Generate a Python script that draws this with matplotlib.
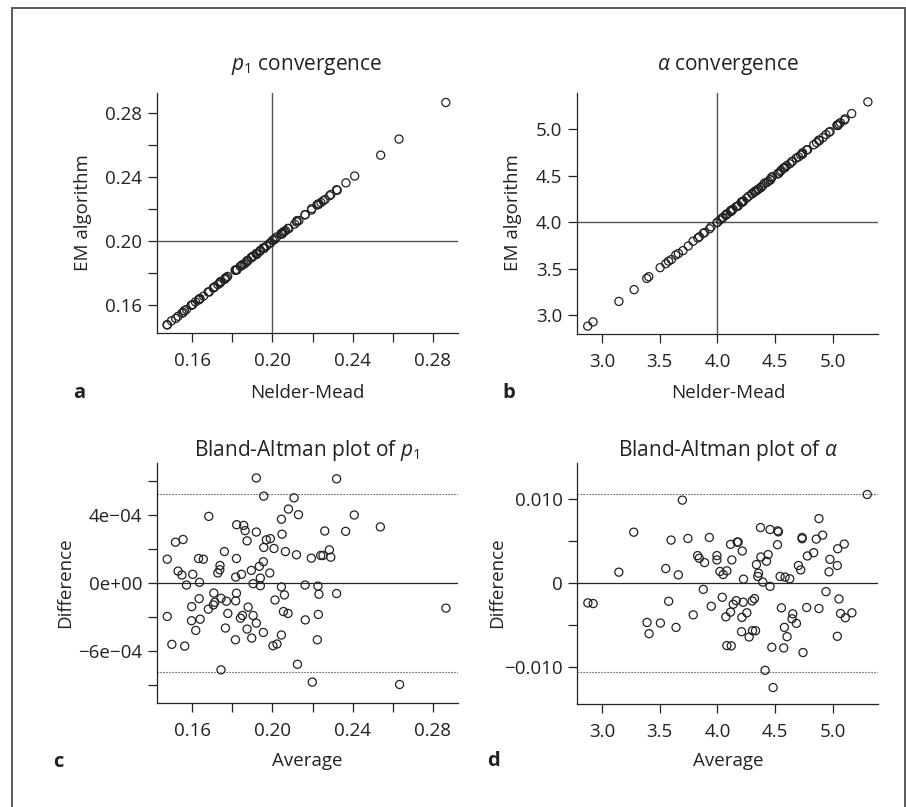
import numpy as np
import matplotlib
matplotlib.use("Agg")
import matplotlib.pyplot as plt
from matplotlib.patches import Rectangle

plt.rcParams['font.family'] = ['Open Sans', 'DejaVu Sans']
plt.rcParams['mathtext.fontset'] = 'custom'
plt.rcParams['mathtext.rm'] = 'Open Sans'
plt.rcParams['mathtext.it'] = 'Open Sans:italic'
plt.rcParams['mathtext.bf'] = 'Open Sans:bold'
plt.rcParams['axes.unicode_minus'] = True

# ---- p1: Bland-Altman average and difference (difference in 1e-4 units)
p1_avg = [0.1920, 0.2320, 0.1957, 0.2108, 0.2080, 0.2130, 0.2408, 0.1683, 0.2045, 0.1822,
          0.1857, 0.1864, 0.1920, 0.2261, 0.2365, 0.2538, 0.2048, 0.1990, 0.1970, 0.1874,
          0.1517, 0.1555, 0.1957, 0.2008, 0.1761, 0.2065, 0.2284, 0.2120, 0.2241, 0.2252,
          0.2291, 0.2194, 0.1476, 0.1632, 0.1656, 0.1821, 0.1955, 0.1935, 0.1739, 0.1738,
          0.1728, 0.1530, 0.1549, 0.1603, 0.1895, 0.1987, 0.1846, 0.1817, 0.1940, 0.1637,
          0.1572, 0.1904, 0.1940, 0.2045, 0.2163, 0.2227, 0.1708, 0.1821, 0.2060, 0.2320,
          0.2232, 0.1635, 0.1744, 0.1771, 0.1817, 0.1713, 0.1706, 0.2013, 0.1598, 0.1681,
          0.1879, 0.2055, 0.2078, 0.1778, 0.1851, 0.1841, 0.1904, 0.1476, 0.1640, 0.1597,
          0.1920, 0.2164, 0.2229, 0.2865, 0.1766, 0.1874, 0.1955, 0.1618, 0.2045, 0.2023,
          0.2003, 0.1816, 0.1897, 0.2224, 0.1499, 0.1563, 0.1744, 0.2125, 0.2199, 0.2634]
p1_diff = [6.18, 6.13, 5.11, 5.01, 4.35, 4.02, 4.00, 3.92, 3.75, 3.43,
           3.39, 3.08, 3.00, 3.06, 3.04, 3.30, 2.87, 2.61, 2.54, 2.48,
           2.40, 2.56, 2.09, 2.03, 1.85, 1.85, 1.95, 1.66, 1.62, 1.62,
           1.52, 1.46, 1.40, 1.44, 1.40, 1.44, 1.25, 0.98, 1.03, 0.78,
           0.59, 0.70, 0.47, 0.51, 0.74, 0.59, 0.51, 0.35, 0.29, 0.04,
           -0.12, -0.04, -0.16, -0.23, -0.12, -0.18, -0.59, -0.60, -0.70, -0.62,
           -0.66, -0.92, -0.90, -1.07, -1.05, -1.13, -1.29, -1.00, -1.39, -1.54,
           -1.42, -1.68, -1.79, -1.79, -1.91, -2.07, -1.91, -1.97, -2.13, -2.22,
           -2.36, -2.17, -1.85, -1.48, -2.65, -2.71, -2.91, -2.79, -3.06, -3.59,
           -3.69, -3.34, -3.24, -3.34, -3.61, -3.71, -5.11, -4.78, -5.83, -5.97]
p1_loa = 5.24      # limits of agreement, 1e-4 units
p1_ref = 0.20

# ---- alpha: Bland-Altman average and difference (difference in 1e-3 units)
alpha_avg = [5.297, 3.697, 4.879, 3.276, 4.373, 4.456, 4.522, 4.528, 3.599, 3.745,
             3.930, 4.171, 4.180, 4.114, 4.733, 4.733, 4.856, 4.911, 4.520, 5.098,
             5.041, 4.215, 4.439, 4.376, 4.833, 4.779, 3.829, 3.843, 3.996, 3.996,
             3.889, 4.125, 4.425, 4.974, 4.338, 4.701, 4.721, 5.038, 4.966, 3.553,
             3.147, 3.662, 4.022, 4.050, 4.082, 4.356, 4.350, 4.393, 4.543, 4.586,
             4.626, 4.226, 4.456, 3.878, 4.940, 4.042, 3.578, 2.879, 2.925, 4.163,
             4.137, 4.223, 4.321, 4.301, 5.052, 3.947, 4.554, 4.773, 4.879, 3.791,
             4.114, 4.073, 4.255, 4.212, 4.652, 4.646, 4.684, 5.066, 5.164, 5.107,
             3.391, 3.507, 3.409, 3.642, 4.209, 4.304, 4.330, 4.275, 4.580, 4.603,
             5.038, 4.082, 4.120, 4.471, 4.574, 4.741, 4.413, 4.482]
alpha_diff = [10.55, 9.88, 7.68, 6.06, 6.61, 6.38, 6.22, 6.10, 5.12, 5.31,
              5.43, 4.88, 4.88, 4.61, 5.43, 5.28, 5.24, 5.71, 4.57, 4.65,
              4.09, 3.82, 3.39, 3.11, 3.62, 3.23, 3.27, 2.95, 3.27, 2.76,
              2.44, 2.76, 2.60, 2.83, 2.20, 2.09, 1.57, 2.09, 1.34, 1.73,
              1.30, 0.98, 1.38, 1.02, 1.46, 1.18, 0.79, 0.12, 0.79, 0.71,
              0.51, 0.47, -0.39, -0.75, -1.02, -1.69, -2.17, -2.36, -2.44, -2.09,
              -2.52, -2.28, -1.85, -2.13, -1.89, -2.76, -2.95, -2.91, -3.03, -3.78,
              -3.46, -4.02, -3.54, -4.09, -3.66, -4.25, -4.80, -3.62, -3.54, -4.13,
              -4.69, -4.76, -6.02, -5.28, -5.79, -5.67, -5.67, -6.42, -5.28, -6.38,
              -6.34, -7.44, -7.48, -7.64, -7.72, -8.27, -10.39, -12.44]
alpha_loa = 10.6   # limits of agreement, 1e-3 units
alpha_ref = 4.0

p1_ticks = [0.16, 0.18, 0.20, 0.22, 0.24, 0.26, 0.28]
p1_ticklabels = ['0.16', '', '0.20', '', '0.24', '', '0.28']
alpha_ticks = [3.0, 3.5, 4.0, 4.5, 5.0]
alpha_ticklabels = ['3.0', '3.5', '4.0', '4.5', '5.0']
p1_dticks = [6e-4, 4e-4, 2e-4, 0, -2e-4, -4e-4, -6e-4]
p1_dticklabels = ['', '4e\u221204', '', '0e+00', '', '\u22126e\u221204', '']
alpha_dticks = [0.010, 0.005, 0, -0.005, -0.010]
alpha_dticklabels = ['0.010', '', '0', '', '\u22120.010']

p1_avg = np.array(p1_avg)
p1_diff = np.array(p1_diff) * 1e-4
alpha_avg = np.array(alpha_avg)
alpha_diff = np.array(alpha_diff) * 1e-3
# the two estimates behind each Bland-Altman point
p1_nm, p1_em = p1_avg + p1_diff / 2, p1_avg - p1_diff / 2
alpha_nm, alpha_em = alpha_avg + alpha_diff / 2, alpha_avg - alpha_diff / 2

INK = '#222222'
REF = '#555555'
W, H = 906, 807

def fx(px):
    return px / W

def fy(py):
    return 1 - py / H

def box(l, t, r, b):
    return [fx(l), fy(b), fx(r) - fx(l), fy(t) - fy(b)]

def style(ax):
    for s in ['top', 'right']:
        ax.spines[s].set_visible(False)
    for s in ['left', 'bottom']:
        ax.spines[s].set_color(INK)
        ax.spines[s].set_linewidth(0.9)
    ax.tick_params(direction='out', length=6.5, width=0.9, color=INK,
                   labelcolor=INK, labelsize=13.5)
    ax.tick_params(axis='x', pad=7)
    ax.tick_params(axis='y', pad=4)

def dots(ax, x, y):
    ax.scatter(x, y, s=34, facecolors='none', edgecolors=INK, linewidths=0.9, zorder=3)

fig = plt.figure(figsize=(W / 100, H / 100), dpi=100)

axa = fig.add_axes(box(157, 93, 458, 333))
axb = fig.add_axes(box(577, 93, 878, 334))
axc = fig.add_axes(box(157, 463, 458, 703))
axd = fig.add_axes(box(577, 463, 878, 704))

dotted = (0, (1, 1.7))

# a: p1 convergence
style(axa)
axa.axvline(p1_ref, color=REF, lw=1)
axa.axhline(p1_ref, color=REF, lw=1)
dots(axa, p1_nm, p1_em)
axa.set_xlim(0.1425, 0.2925)
axa.set_ylim(0.1425, 0.2925)
axa.set_xticks(p1_ticks, p1_ticklabels)
axa.set_yticks(p1_ticks, p1_ticklabels)

# b: alpha convergence
style(axb)
axb.axvline(alpha_ref, color=REF, lw=1)
axb.axhline(alpha_ref, color=REF, lw=1)
dots(axb, alpha_nm, alpha_em)
axb.set_xlim(2.785, 5.39)
axb.set_ylim(2.796, 5.387)
axb.set_xticks(alpha_ticks, alpha_ticklabels)
axb.set_yticks(alpha_ticks, alpha_ticklabels)

# c: Bland-Altman p1
style(axc)
axc.axhline(0, color=INK, lw=0.9)
axc.axhline(p1_loa * 1e-4, color=INK, lw=0.8, ls=dotted)
axc.axhline(-p1_loa * 1e-4, color=INK, lw=0.8, ls=dotted)
dots(axc, p1_avg, p1_diff)
axc.set_xlim(0.1425, 0.2925)
axc.set_ylim(-7.06e-4, 7.06e-4)
axc.set_xticks(p1_ticks, p1_ticklabels)
axc.set_yticks(p1_dticks, p1_dticklabels)

# d: Bland-Altman alpha
style(axd)
axd.axhline(0, color=INK, lw=0.9)
axd.axhline(alpha_loa * 1e-3, color=INK, lw=0.8, ls=dotted)
axd.axhline(-alpha_loa * 1e-3, color=INK, lw=0.8, ls=dotted)
dots(axd, alpha_avg, alpha_diff)
axd.set_xlim(2.785, 5.39)
axd.set_ylim(-0.0144, 0.0143)
axd.set_xticks(alpha_ticks, alpha_ticklabels)
axd.set_yticks(alpha_dticks, alpha_dticklabels)

# titles
tkw = dict(ha='center', va='baseline', fontsize=15, color=INK)
fig.text(fx(307), fy(70), r'$p_1$ convergence', **tkw)
fig.text(fx(728), fy(70), r'$\alpha$ convergence', **tkw)
fig.text(fx(307), fy(456), r'Bland-Altman plot of $p_1$', **tkw)
fig.text(fx(728), fy(456), r'Bland-Altman plot of $\alpha$', **tkw)

# axis labels
lkw = dict(ha='center', va='baseline', fontsize=13.5, color=INK)
fig.text(fx(307), fy(398), 'Nelder-Mead', **lkw)
fig.text(fx(728), fy(398), 'Nelder-Mead', **lkw)
fig.text(fx(307), fy(766), 'Average', **lkw)
fig.text(fx(728), fy(766), 'Average', **lkw)
rkw = dict(lkw, rotation=90, rotation_mode='anchor')
fig.text(fx(88), fy(213), 'EM algorithm', **rkw)
fig.text(fx(518), fy(213), 'EM algorithm', **rkw)
fig.text(fx(70.5), fy(583), 'Difference', **rkw)
fig.text(fx(502), fy(583), 'Difference', **rkw)

# panel letters
pkw = dict(ha='left', va='baseline', fontsize=14.5, fontweight='bold', color=INK)
fig.text(fx(73), fy(398), 'a', **pkw)
fig.text(fx(502), fy(398), 'b', **pkw)
fig.text(fx(53), fy(767), 'c', **pkw)
fig.text(fx(487), fy(766), 'd', **pkw)

# outer frame (bottom edge falls outside the image)
fig.add_artist(Rectangle((fx(11.7), -0.05), fx(905) - fx(11.7), fy(7.5) + 0.05,
                         transform=fig.transFigure, fill=False,
                         edgecolor='#5a5a5a', lw=1.4))

fig.savefig('out.png', dpi=100)
